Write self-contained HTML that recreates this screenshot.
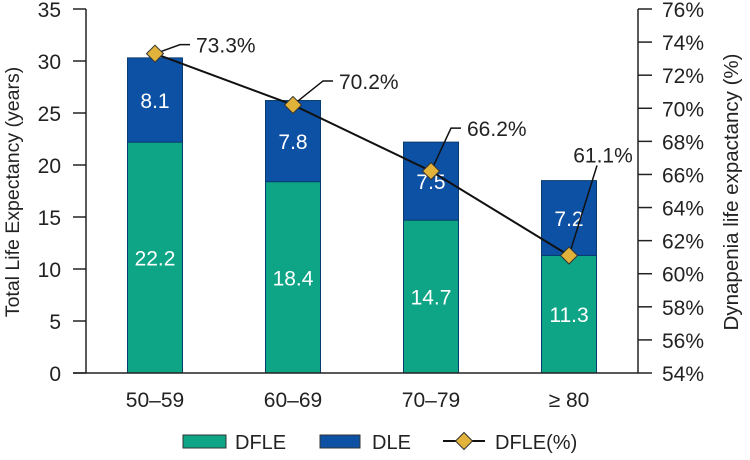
<!DOCTYPE html>
<html><head><meta charset="utf-8"><style>
body{margin:0;background:#fff}
svg text{font-family:"Liberation Sans",sans-serif;fill:#222}
</style></head><body>
<svg width="750" height="455" viewBox="0 0 750 455" id="chart">
<g id="g"></g>
</svg>
<script>
const categories=["50–59","60–69","70–79","≥ 80"];
const dfle=[22.2,18.4,14.7,11.3];
const dle=[8.1,7.8,7.5,7.2];
const pct=[73.3,70.2,66.2,61.1];
const leftTicks=[0,5,10,15,20,25,30,35];
const rightTicks=[54,56,58,60,62,64,66,68,70,72,74,76];
const labelOffsets=[[25,-9],[30,-24],[20,-43],[28,-90]];
const NS="http://www.w3.org/2000/svg";
const g=document.getElementById('g');
const X0=86,X1=638,Y0=373,Y1=9;
const yL=v=>Y0-(v/35)*(Y0-Y1);
const yR=v=>Y0-((v-54)/22)*(Y0-Y1);
const band=(X1-X0)/categories.length;
const xC=i=>X0+band*(i+0.5);
function el(t,a,txt){const e=document.createElementNS(NS,t);for(const k in a)e.setAttribute(k,a[k]);if(txt!==undefined)e.textContent=txt;g.appendChild(e);return e;}
const bw=55;
categories.forEach((c,i)=>{
 let r=el('rect',{x:xC(i)-bw/2,y:yL(dfle[i]),width:bw,height:Y0-yL(dfle[i]),fill:'#0ea586',stroke:'#0a3d6e','stroke-width':1});
 
 let r2=el('rect',{x:xC(i)-bw/2,y:yL(dfle[i]+dle[i]),width:bw,height:yL(dfle[i])-yL(dfle[i]+dle[i]),fill:'#0d51a5',stroke:'#0a3d6e','stroke-width':1});
 
 let t=el('text',{x:xC(i),y:(yL(dfle[i])+Y0)/2+8,'text-anchor':'middle','font-size':21,style:'fill:#fff'},dfle[i].toFixed(1));
 
 let t2=el('text',{x:xC(i),y:(yL(dfle[i])+yL(dfle[i]+dle[i]))/2+8,'text-anchor':'middle','font-size':21,style:'fill:#fff'},dle[i].toFixed(1));
 
 let xl=el('text',{x:xC(i),y:407,'text-anchor':'middle','font-size':21},c);
 
});
el('line',{x1:X0,y1:Y1,x2:X0,y2:Y0,stroke:'#222','stroke-width':1.5});
el('line',{x1:X1,y1:Y1,x2:X1,y2:Y0,stroke:'#222','stroke-width':1.5});
el('line',{x1:X0-13,y1:Y0,x2:X1,y2:Y0,stroke:'#222','stroke-width':1.5});
leftTicks.forEach(v=>{
 el('line',{x1:X0-13,y1:yL(v),x2:X0,y2:yL(v),stroke:'#222','stroke-width':1.5});
 let t=el('text',{x:X0-25,y:yL(v)+8,'text-anchor':'end','font-size':21},v);
 
});
rightTicks.forEach(v=>{
 el('line',{x1:X1,y1:yR(v),x2:X1+14,y2:yR(v),stroke:'#222','stroke-width':1.5});
 let t=el('text',{x:X1+24,y:yR(v)+8,'font-size':21},v+'%');
 
});
let yt=el('text',{x:0,y:0,transform:'translate(19,192) rotate(-90)','text-anchor':'middle','font-size':19.5},'Total Life Expectancy (years)');

let yt2=el('text',{x:0,y:0,transform:'translate(738,192) rotate(-90)','text-anchor':'middle','font-size':20.5},'Dynapenia life expactancy (%)');

const pts=pct.map((v,i)=>xC(i)+','+yR(v)).join(' ');
el('polyline',{points:pts,fill:'none',stroke:'#111','stroke-width':2});
pct.forEach((v,i)=>{
 const x=xC(i),y=yR(v),o=labelOffsets[i];
 const last=i===pct.length-1;
 if(last){
  el('line',{x1:x,y1:y,x2:x+o[0],y2:y+o[1],stroke:'#111','stroke-width':1.5});
 } else {
  el('polyline',{points:`${x},${y} ${x+o[0]},${y+o[1]} ${x+o[0]+10},${y+o[1]}`,fill:'none',stroke:'#111','stroke-width':1.5});
 }
 let d=el('rect',{x:x-6,y:y-6,width:12,height:12,fill:'#e2b33a',stroke:'#333','stroke-width':1,transform:`rotate(45 ${x} ${y})`});
 
 let t=last?el('text',{x:x+o[0]+6,y:y+o[1]-3,'text-anchor':'middle','font-size':21},v.toFixed(1)+'%')
           :el('text',{x:x+o[0]+16,y:y+o[1]+8,'font-size':21},v.toFixed(1)+'%');
 
});
let l1=el('rect',{x:183,y:435,width:43,height:13,fill:'#0ea586',stroke:'#333','stroke-width':1});
let lt1=el('text',{x:235,y:449,'font-size':20},'DFLE');
let l2=el('rect',{x:320,y:435,width:40,height:13,fill:'#0d51a5',stroke:'#333','stroke-width':1});
let lt2=el('text',{x:372,y:449,'font-size':20},'DLE');
el('line',{x1:443,y1:441,x2:485,y2:441,stroke:'#111','stroke-width':2});
el('rect',{x:458,y:435,width:12,height:12,fill:'#e2b33a',stroke:'#333',transform:'rotate(45 464 441)'});
let lt3=el('text',{x:495,y:449,'font-size':20},'DFLE(%)');
</script>
</body></html>
